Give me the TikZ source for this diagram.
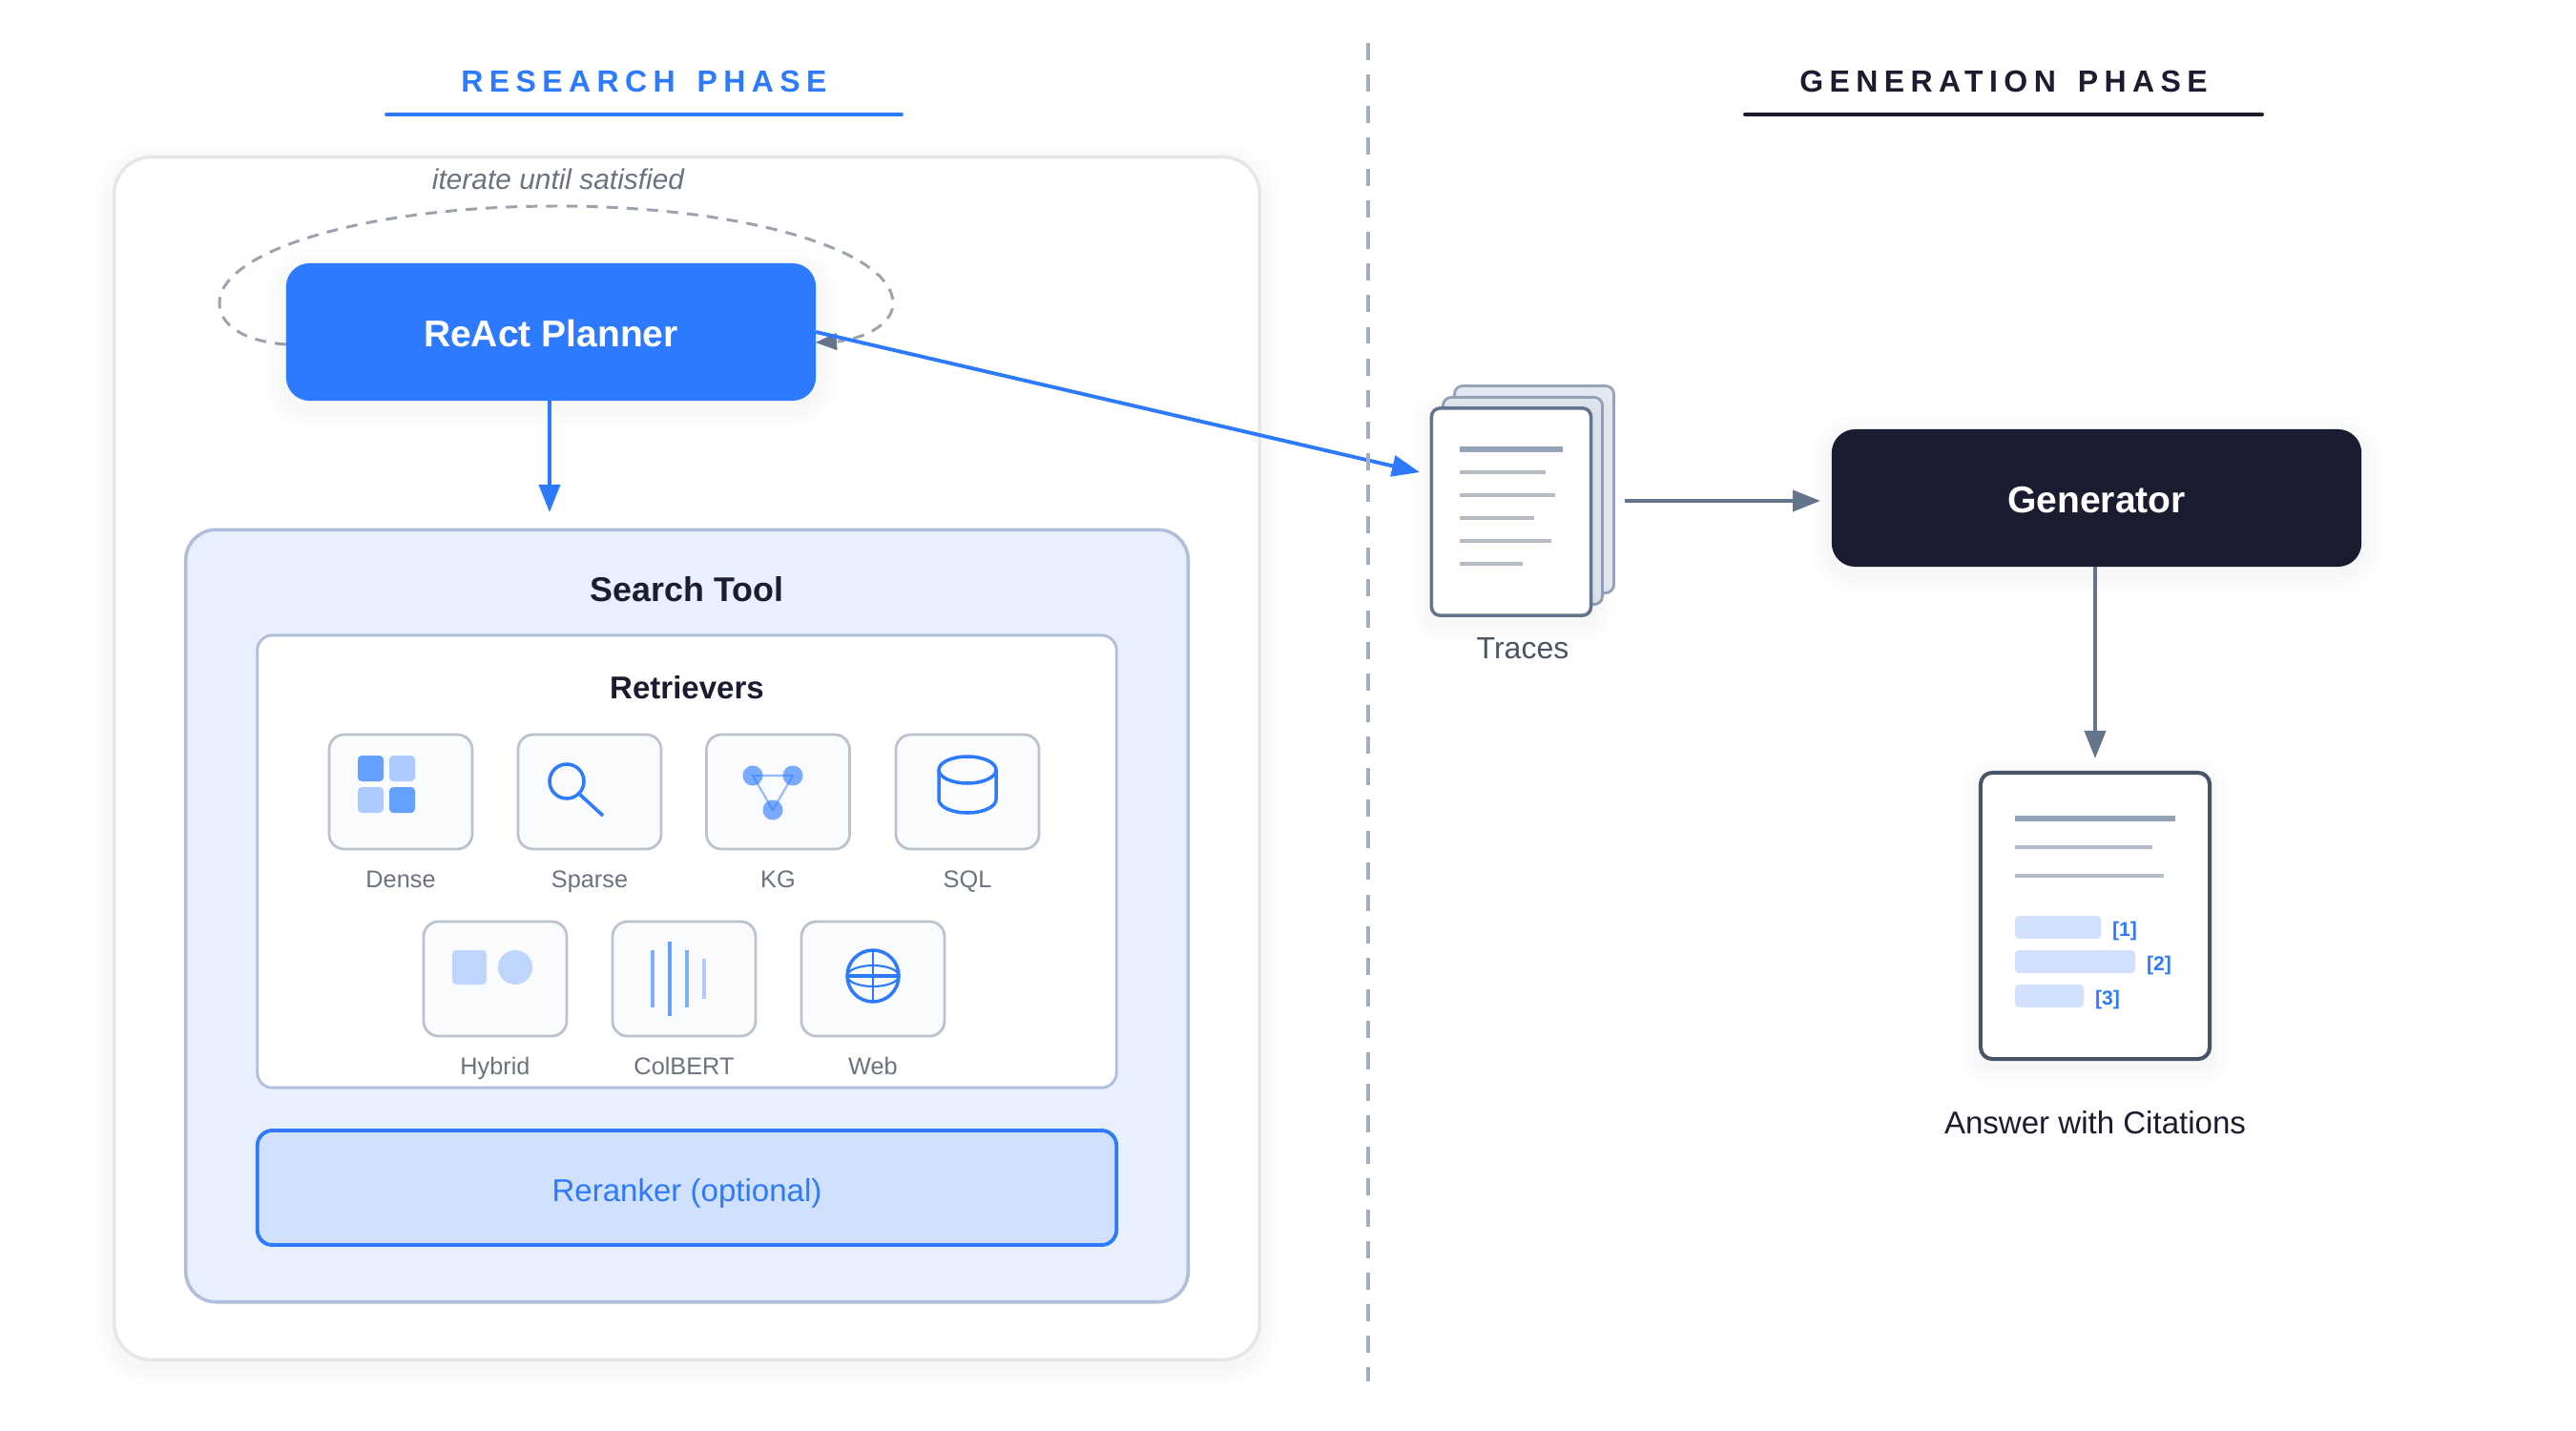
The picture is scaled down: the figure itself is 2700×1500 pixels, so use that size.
\documentclass[tikz,border=0pt]{standalone}
\usepackage{fontspec}
\setmainfont{Liberation Sans}
\newfontfamily\spacedfont[LetterSpace=20,WordSpace=1.5]{Liberation Sans}
\usetikzlibrary{arrows.meta,positioning,calc}
\definecolor{cblue}{HTML}{2E7AFF}
\definecolor{cnavy}{HTML}{1C1C30}
\definecolor{cslate}{HTML}{64748B}
\definecolor{cslated}{HTML}{475569}
\definecolor{cmute}{HTML}{94A3B8}
\definecolor{cdiv}{HTML}{A0AEC0}
\definecolor{cline}{HTML}{B4BAC6}
\definecolor{cdash}{HTML}{9CA3AF}
\definecolor{ctext}{HTML}{6B7280}
\definecolor{ctrace}{HTML}{4B5563}
\definecolor{cedge}{HTML}{E5E7EB}
\definecolor{csearch}{HTML}{E8EFFD}
\definecolor{cframe}{HTML}{AEBEDC}
\definecolor{crerank}{HTML}{D0E0FD}
\definecolor{ciconbg}{HTML}{F9FBFD}
\definecolor{ciconbd}{HTML}{BCC3CF}
\definecolor{cdark}{HTML}{64A0FF}
\definecolor{ckg}{HTML}{78ABFF}
\definecolor{clite}{HTML}{AECBFF}
\definecolor{cpale}{HTML}{BFD5FD}
\definecolor{cpage}{HTML}{E2E8F0}
\newcommand{\softedge}[5]{%
  \foreach \w in {3,6,9,12}
    \draw[black, opacity=.006, line width=\w pt, rounded corners=#5] (#1,#2+6) rectangle (#3,#4+6);}
\tikzset{
  outerbox/.style={draw=cedge, fill=white, line width=1pt, rounded corners=11pt,
              minimum width=12cm, minimum height=12.6cm, outer sep=0pt},
  titletxt/.style={font=\fontsize{9.1}{11}\spacedfont\bfseries},
  titlebar/.style={line width=1.1pt, line cap=round},
  planbox/.style={rounded corners=7pt, minimum width=5.55cm, minimum height=1.44cm,
              outer sep=0pt, text=white, text height=11pt, text depth=2pt,
              font=\fontsize{11.1}{13}\selectfont\bfseries},
  srchbox/.style={draw=cframe, fill=csearch, line width=1pt, rounded corners=9pt,
              minimum width=10.5cm, minimum height=8.09cm, outer sep=0pt},
  retrbox/.style={draw=cframe, fill=white, line width=.8pt, rounded corners=4.5pt,
              minimum width=9cm, minimum height=4.74cm, outer sep=0pt},
  rerbox/.style={draw=cblue, fill=crerank, line width=1.1pt, rounded corners=4.5pt,
              minimum width=9cm, minimum height=1.2cm, outer sep=0pt, text=cblue,
              text height=8.5pt, text depth=.5pt, font=\fontsize{9.4}{12}\selectfont},
  headtxt/.style={text=cnavy, font=\fontsize{10.2}{12}\selectfont\bfseries},
  iconbox/.style={draw=ciconbd, fill=ciconbg, line width=.8pt, rounded corners=4.5pt,
              minimum width=1.5cm, minimum height=1.2cm, outer sep=0pt},
  icontxt/.style={text=ctext, font=\fontsize{7.2}{9}\selectfont, anchor=base},
  blip/.style={rounded corners=1.2pt},
  glass/.style={draw=cblue, line width=1pt},
  kgdot/.style={circle, fill=ckg, inner sep=0pt, minimum size=.21cm},
  kgedge/.style={draw=cblue, opacity=.5, line width=.6pt},
  pagea/.style={draw=cmute, fill=cpage, line width=.8pt, rounded corners=2.5pt,
              minimum width=1.67cm, minimum height=2.17cm, outer sep=0pt},
  pageb/.style={draw=cslate, fill=white, line width=1pt, rounded corners=2.5pt,
              minimum width=1.67cm, minimum height=2.17cm, outer sep=0pt},
  hdline/.style={draw=cmute, line width=1.7pt},
  txline/.style={draw=cline, line width=1.4pt},
  cite/.style={text=cblue, font=\fontsize{6}{7}\selectfont\bfseries},
  blarr/.style={-{Triangle[length=2.9mm,width=2.2mm]}, cblue, line width=1.1pt},
  grarr/.style={-{Triangle[length=2.9mm,width=2.2mm]}, cslate, line width=1.1pt},
  loopln/.style={draw=cdash, line width=.85pt, dash pattern=on 3.4pt off 2.6pt},
  divln/.style={draw=cdiv, line width=1.1pt, dash pattern=on 5.1pt off 4.3pt},
}
\begin{document}
\begin{tikzpicture}[x=.01cm, y=-.01cm]
  \useasboundingbox (0,0) rectangle (2700,1500);
  % phase headers
  \node[titletxt, text=cblue] (restitle) at (675,85) {RESEARCH PHASE};
  \node[titletxt, text=cnavy] (gentitle) at (2100,85) {GENERATION PHASE};
  \draw[titlebar, cblue] (405,120) -- (945,120);
  \draw[titlebar, cnavy] (1829,120) -- (2371,120);
  % research side
  \softedge{120}{165}{1320}{1425}{11pt}
  \node[outerbox] (outer) at (720,795) {};
  \node[font=\fontsize{8.5}{10}\selectfont\itshape, text=ctext] (itertxt) at (585,188) {iterate until satisfied};
  \coordinate (loopin) at (855,359);
  \coordinate (loopout) at (300,361);
  \draw[loopln] (loopout) .. controls (255,358) and (230,340) .. (230,318)
    .. controls (230,262) and (388,216) .. (583,216)
    .. controls (778,216) and (936,262) .. (936,318)
    .. controls (936,338) and (910,354) .. (878,358);
  \softedge{300}{276}{855}{420}{7pt}
  \node[planbox, fill=cblue] (planner) at (577.5,348) {ReAct Planner};
  \draw[{Triangle[length=2.2mm,width=1.8mm]}-, cslate, line width=.1pt] (loopin) -- (878,358);
  \node[srchbox] (search) at (720,960) {};
  \node[headtxt] (searchtxt) at (720,618) {Search Tool};
  \node[retrbox] (retr) at (720,903) {};
  \node[headtxt, font=\fontsize{9.4}{12}\selectfont\bfseries] (retrtxt) at (720,721) {Retrievers};
  \node[rerbox] (rerank) at (720,1245) {Reranker (optional)};
  \foreach \nm/\cx/\cy/\lab in {dense/420/830/Dense, sparse/618/830/Sparse, kg/815.5/830/KG, sql/1014/830/SQL,
      hybrid/519/1026/Hybrid, colbert/717/1026/ColBERT, web/915/1026/Web} {
    \node[iconbox] (\nm) at (\cx,\cy) {};
    \node[icontxt] (\nm txt) at ($(\nm.center)+(0,100)$) {\lab};
  }
  % dense
  \fill[blip, cdark] (375,792) rectangle (402,819);
  \fill[blip, clite] (408,792) rectangle (435,819);
  \fill[blip, clite] (375,825) rectangle (402,852);
  \fill[blip, cdark] (408,825) rectangle (435,852);
  % sparse
  \draw[glass] (594,819) circle [radius=18];
  \draw[glass] (608,833) -- (632,855);
  % kg
  \node[kgdot] (kga) at (789,813) {};
  \node[kgdot] (kgb) at (831,813) {};
  \node[kgdot] (kgc) at (810,849) {};
  \draw[kgedge] (kga.center) -- (kgb.center) -- (kgc.center) -- cycle;
  % sql
  \draw[glass] (1014,807) ellipse [x radius=30, y radius=14];
  \draw[glass] (984,807) -- (984,838) arc [start angle=180, end angle=0, x radius=30, y radius=14] -- (1044,807);
  % hybrid
  \fill[blip, cpale] (474,996) rectangle (510,1032);
  \fill[cpale] (540,1014) circle [radius=18];
  % colbert
  \draw[line width=1.1pt, cdark!85!white] (684,996) -- (684,1056);
  \draw[line width=1.1pt, cdark] (702,987) -- (702,1065);
  \draw[line width=1.1pt, cdark!85!white] (720,996) -- (720,1056);
  \draw[line width=1.1pt, clite] (738,1005) -- (738,1047);
  % web
  \draw[glass] (915,1023) circle [radius=27];
  \draw[glass, line width=.6pt] (915,1023) ellipse [x radius=27, y radius=11];
  \draw[glass, line width=.9pt] (888,1023) -- (942,1023);
  \draw[glass, line width=.7pt] (915,996) -- (915,1050);
  % arrows out of the planner
  \coordinate (srchtop) at (576,537);
  \coordinate (tracetip) at (1488,495);
  \draw[blarr] (planner.south -| srchtop) -- (srchtop);
  \draw[blarr] (planner.east) -- (tracetip);
  % divider
  \coordinate (divtop) at (1434,45);
  \coordinate (divbot) at (1434,1448);
  \draw[divln] (divtop) -- (divbot);
  % generation side
  \node[pagea] (pageback) at (1608,513) {};
  \node[pagea] (pagemid) at (1596,525) {};
  \softedge{1501}{428}{1668}{645}{2.5pt}
  \node[pageb] (pagefront) at (1584,536.5) {};
  \foreach \yy/\xe in {495/1620, 519/1630, 543/1608, 567/1626, 591/1596}
    \draw[txline] (1530,\yy) -- (\xe,\yy);
  \draw[hdline] (1530,471) -- (1638,471);
  \node[text=ctrace, font=\fontsize{9.1}{11}\selectfont] (tracetxt) at (1596,680) {Traces};
  \softedge{1920}{450}{2475}{594}{7pt}
  \node[planbox, fill=cnavy] (generator) at (2197.5,522) {Generator};
  \coordinate (tracefoot) at (1703,525);
  \coordinate (gentip) at (1908,525);
  \draw[grarr] (tracefoot) -- (gentip);
  \softedge{2076}{810}{2316}{1110}{3.5pt}
  \node[draw=cslated, fill=white, line width=1.15pt, rounded corners=3.5pt, minimum width=2.4cm,
        minimum height=3cm, outer sep=0pt] (answer) at (2196,960) {};
  \coordinate (anstip) at (2196,795);
  \draw[grarr] (generator.south -| anstip) -- (anstip);
  \draw[hdline] (2112,858) -- (2280,858);
  \draw[txline] (2112,888) -- (2256,888);
  \draw[txline] (2112,918) -- (2268,918);
  \fill[blip, crerank] (2112,960) rectangle (2202,984);
  \fill[blip, crerank] (2112,996) rectangle (2238,1020);
  \fill[blip, crerank] (2112,1032) rectangle (2184,1056);
  \node[cite] (citea) at (2227,976) {[1]};
  \node[cite] (citeb) at (2263,1012) {[2]};
  \node[cite] (citec) at (2209,1048) {[3]};
  \node[text=cnavy, font=\fontsize{9.4}{11}\selectfont] (anstxt) at (2196,1177) {Answer with Citations};
\end{tikzpicture}
\end{document}
